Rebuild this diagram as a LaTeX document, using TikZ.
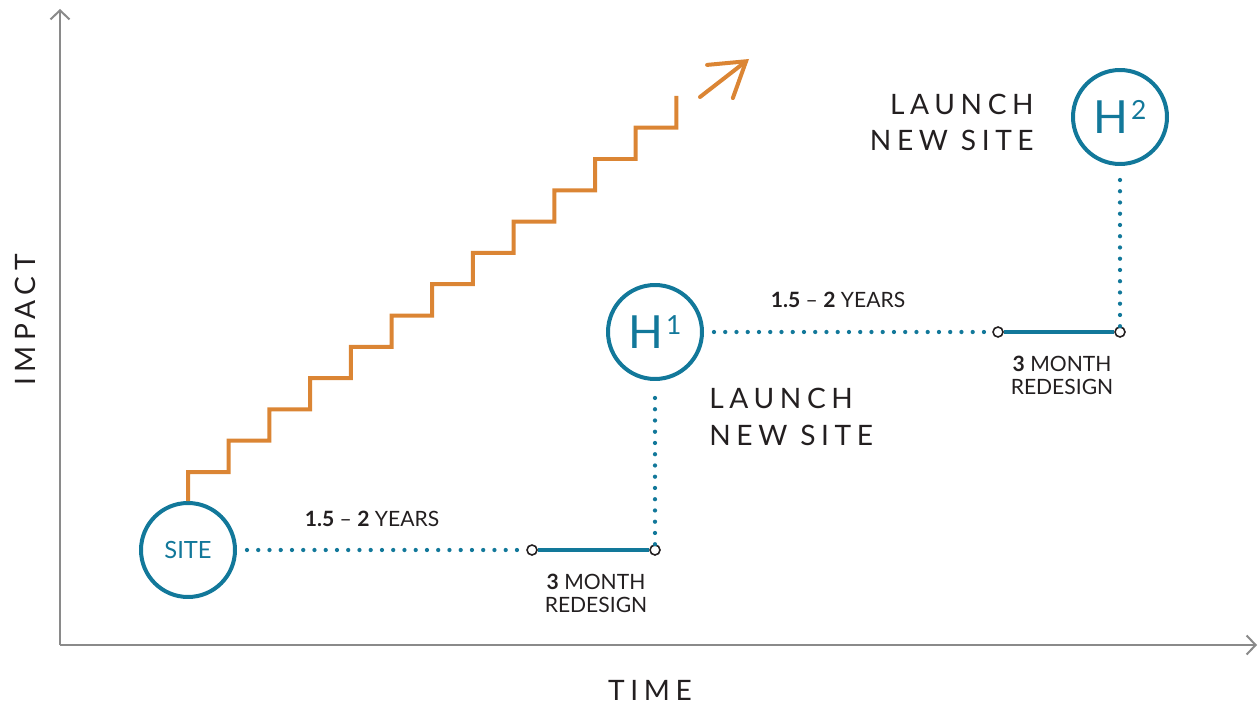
\documentclass[tikz,border=0pt]{standalone}
\usepackage{fontspec}
\setmainfont{Lato}
\usetikzlibrary{arrows.meta, positioning}
\definecolor{siteteal}{HTML}{12789A}
\definecolor{stairorange}{HTML}{DB8534}
\definecolor{ink}{HTML}{231F20}
\definecolor{axisgray}{HTML}{8A8A8A}
\newfontfamily\spaced{Lato}[LetterSpace=20]
\def\capsfont{\spaced\fontsize{16}{20.8}\selectfont}
\def\notefont{\fontsize{12}{13}\selectfont}

\begin{document}
\begin{tikzpicture}[x=0.02cm, y=-0.02cm,
    axis/.style={axisgray, line width=0.04cm, -{Straight Barb[length=0.18cm, width=0.38cm]}},
    hub/.style={circle, draw=siteteal, line width=0.08cm, minimum size=1.88cm, inner sep=0pt, text=siteteal},
    joint/.style={circle, draw=ink, fill=white, line width=0.9pt, minimum size=0.2cm, inner sep=0pt},
    dotline/.style={siteteal, line width=0.085cm, line cap=round, dash pattern=on 0pt off 0.225cm},
    redesign/.style={siteteal, line width=0.08cm},
    stair/.style={stairorange, line width=0.08cm},
    note/.style={text=ink, font=\notefont, inner sep=0pt, align=center},
    launch/.style={text=ink, font=\capsfont, inner sep=0pt}]
  \useasboundingbox (0,0) rectangle (1258,706);
  % Axes
  \coordinate (origin) at (60,645);
  \coordinate (ytop) at (60,9);
  \coordinate (xend) at (1257,645);
  \draw[axis] (origin) -- (ytop);
  \draw[axis] (origin) -- (xend);
  \node[launch, rotate=90] (impact) at (25,320) {IMPACT};
  \node[launch, anchor=base] (time) at (650,700) {TIME};
  % Sites
  \node[hub, font=\fontsize{13.5}{13.5}\selectfont] (site) at (188,550) {SITE};
  \node[hub, font=\fontsize{26}{26}\selectfont] (h1) at (655,332) {H\kern1.5pt\raisebox{0.27cm}{\fontsize{15}{15}\selectfont 1}};
  \node[hub, font=\fontsize{26}{26}\selectfont] (h2) at (1120,117) {H\kern1.5pt\raisebox{0.27cm}{\fontsize{15}{15}\selectfont 2}};
  % Redesign points
  \node[joint] (r1a) at (532,550) {};
  \node[joint] (r1b) at (655,550) {};
  \node[joint] (r2a) at (998,332) {};
  \node[joint] (r2b) at (1120,332) {};
  % Timelines
  \draw[dotline, shorten <=0.2cm] (site) -- (r1a);
  \draw[redesign] (r1a) -- (r1b);
  \draw[dotline, shorten >=0.12cm] (r1b) -- (h1);
  \draw[dotline, shorten <=0.2cm] (h1) -- (r2a);
  \draw[redesign] (r2a) -- (r2b);
  \draw[dotline, shorten >=0.12cm] (r2b) -- (h2);
  % Labels (base anchor sits on the last line)
  \node[note, anchor=base] (years1) at (372,526) {\textbf{1.5} -- \textbf{2} YEARS};
  \node[note, anchor=base] (month1) at (596,612) {\textbf{3} MONTH\\REDESIGN};
  \node[note, anchor=base] (years2) at (838,307) {\textbf{1.5} -- \textbf{2} YEARS};
  \node[note, anchor=base] (month2) at (1062,394) {\textbf{3} MONTH\\REDESIGN};
  \node[launch, align=left, anchor=base west] (launch1) at (709,445) {LAUNCH\\NEW SITE};
  \node[launch, align=right, anchor=base east] (launch2) at (1034,151) {LAUNCH\\NEW SITE};
  % Staircase
  \draw[stair] (site.north) \foreach \i in {0,...,11} {
      -- ({188+40.7*\i},{472-31.3*\i}) -- ({188+40.7*(\i+1)},{472-31.3*\i})} -- (676.4,96);
  \coordinate (growstart) at (700,97);
  \coordinate (growend) at (749,59);
  \draw[stair, line cap=round, -{Straight Barb[length=0.66cm, width=0.84cm, line cap=round]}] (growstart) -- (growend);
\end{tikzpicture}
\end{document}
